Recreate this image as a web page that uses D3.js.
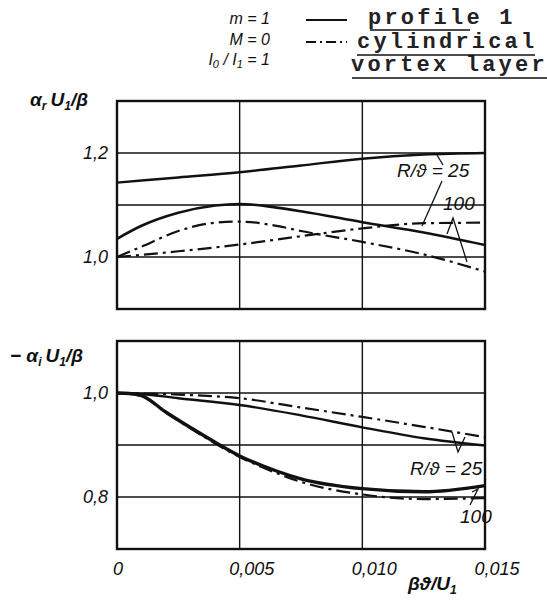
<!DOCTYPE html>
<html>
<head>
<meta charset="utf-8">
<script src="https://cdn.jsdelivr.net/npm/d3@7"></script>
<style>
  body { margin: 0; background: #fff; }
  svg { display: block; }
  .lbl { font-family: "Liberation Sans Narrow", "Liberation Sans", sans-serif; font-style: italic; fill: #111; }
  .mono { font-family: "Liberation Mono", "DejaVu Sans Mono", monospace; font-weight: bold; fill: #222; }
</style>
</head>
<body>
<div id="chart"></div>
<script>
// x values: beta*theta/U1
const xTicks = [0, 0.005, 0.010, 0.015];
const xTickLabels = ["0", "0,005", "0,010", "0,015"];

// upper panel: alpha_r U1/beta
const topTicks = [1.0, 1.2];
const topTickLabels = ["1,0", "1,2"];
const topGrid = [1.0, 1.1, 1.2];
const topSolid25 = [[0, 1.143], [0.0025, 1.153], [0.005, 1.163], [0.0075, 1.176], [0.010, 1.189], [0.0125, 1.197], [0.015, 1.2]];
const topSolid100 = [[0, 1.035], [0.001, 1.06], [0.0025, 1.085], [0.004, 1.099], [0.005, 1.102], [0.0065, 1.095], [0.0075, 1.088], [0.010, 1.067], [0.0125, 1.047], [0.015, 1.023]];
const topDash25 = [[0, 1.0], [0.0025, 1.011], [0.005, 1.024], [0.0075, 1.04], [0.010, 1.055], [0.0125, 1.065], [0.015, 1.066]];
const topDash100 = [[0, 1.0], [0.001, 1.02], [0.0025, 1.05], [0.004, 1.066], [0.005, 1.068], [0.0065, 1.06], [0.0075, 1.05], [0.010, 1.029], [0.0125, 1.005], [0.015, 0.972]];

// lower panel: -alpha_i U1/beta
const botTicks = [0.8, 1.0];
const botTickLabels = ["0,8", "1,0"];
const botGrid = [0.8, 0.9, 1.0];
const botSolid25 = [[0, 1.0], [0.001, 0.998], [0.0025, 0.99], [0.005, 0.977], [0.0075, 0.957], [0.010, 0.934], [0.0125, 0.913], [0.015, 0.899]];
const botDash25 = [[0, 1.0], [0.0025, 0.997], [0.005, 0.99], [0.0075, 0.972], [0.010, 0.954], [0.0125, 0.935], [0.015, 0.915]];
const botSolid100 = [[0, 1.0], [0.0005, 0.999], [0.001, 0.995], [0.002, 0.963], [0.0034, 0.922], [0.005, 0.879], [0.0065, 0.85], [0.0075, 0.835], [0.010, 0.816], [0.0125, 0.81], [0.015, 0.822]];
const botDash100 = [[0, 1.0], [0.001, 0.994], [0.002, 0.962], [0.0034, 0.92], [0.005, 0.877], [0.0065, 0.846], [0.0075, 0.829], [0.010, 0.805], [0.0125, 0.796], [0.015, 0.798]];

const width = 547, height = 602;
const svg = d3.select('#chart').append('svg')
    .attr('width', width)
    .attr('height', height);

const x = d3.scaleLinear().domain([0, 0.015]).range([117, 485]);
const yTop = d3.scaleLinear().domain([0.9, 1.3]).range([309, 101]);
const yBot = d3.scaleLinear().domain([0.7, 1.1]).range([549, 341]);

const DASHDOT = "14,5,3,5";

function panel(y, grid, ticks, tickLabels, curves) {
    const g = svg.append('g');
    // grid
    g.selectAll('line.h').data(grid).enter().append('line')
        .attr('x1', x(0)).attr('x2', x(0.015))
        .attr('y1', d => y(d)).attr('y2', d => y(d))
        .attr('stroke', '#111').attr('stroke-width', 1.3);
    g.selectAll('line.v').data(xTicks.slice(1, 3)).enter().append('line')
        .attr('x1', d => x(d)).attr('x2', d => x(d))
        .attr('y1', y.range()[0]).attr('y2', y.range()[1])
        .attr('stroke', '#111').attr('stroke-width', 1.4);
    // frame
    g.append('rect')
        .attr('x', x(0)).attr('y', y.range()[1])
        .attr('width', x(0.015) - x(0)).attr('height', y.range()[0] - y.range()[1])
        .attr('fill', 'none').attr('stroke', '#111').attr('stroke-width', 2.4);
    // tick labels
    g.selectAll('text.t').data(ticks).enter().append('text')
        .attr('class', 'lbl')
        .attr('x', 108).attr('y', d => y(d) + 6)
        .attr('text-anchor', 'end')
        .attr('font-size', 18)
        .text((d, i) => tickLabels[i]);
    const line = d3.line()
        .x(d => x(d[0])).y(d => y(d[1]))
        .curve(d3.curveMonotoneX);
    curves.forEach(c => {
        g.append('path')
            .attr('d', line(c.data))
            .attr('fill', 'none')
            .attr('stroke', '#111')
            .attr('stroke-width', c.w)
            .attr('stroke-dasharray', c.dash ? DASHDOT : null);
    });
    return g;
}

panel(yTop, topGrid, topTicks, topTickLabels, [
    { data: topSolid25, w: 2.4 },
    { data: topSolid100, w: 2.6 },
    { data: topDash25, w: 2.2, dash: true },
    { data: topDash100, w: 2.2, dash: true }
]);
panel(yBot, botGrid, botTicks, botTickLabels, [
    { data: botSolid25, w: 2.4 },
    { data: botDash25, w: 2.2, dash: true },
    { data: botSolid100, w: 3.4 },
    { data: botDash100, w: 2.2, dash: true }
]);

// x tick labels
svg.selectAll('text.xt').data(xTicks).enter().append('text')
    .attr('class', 'lbl')
    .attr('x', (d, i) => x(d) + (i === 0 ? 1 : 12))
    .attr('y', 575)
    .attr('text-anchor', 'middle')
    .attr('font-size', 18)
    .text((d, i) => xTickLabels[i]);

// axis titles
const xt = svg.append('text').attr('class', 'lbl')
    .attr('x', 408).attr('y', 590).attr('font-size', 19).attr('font-weight', 'bold');
xt.append('tspan').text('βϑ/U');
xt.append('tspan').attr('font-size', 12).attr('dy', 4).text('1');

const yt1 = svg.append('text').attr('class', 'lbl')
    .attr('x', 30).attr('y', 106).attr('font-size', 19).attr('font-weight', 'bold');
yt1.append('tspan').text('α');
yt1.append('tspan').attr('font-size', 12).attr('dy', 4).text('r');
yt1.append('tspan').attr('dy', -4).attr('dx', 4).text('U');
yt1.append('tspan').attr('font-size', 12).attr('dy', 4).text('1');
yt1.append('tspan').attr('dy', -4).text('/β');

const yt2 = svg.append('text').attr('class', 'lbl')
    .attr('x', 10).attr('y', 362).attr('font-size', 19).attr('font-weight', 'bold');
yt2.append('tspan').text('− α');
yt2.append('tspan').attr('font-size', 12).attr('dy', 4).text('i');
yt2.append('tspan').attr('dy', -4).attr('dx', 4).text('U');
yt2.append('tspan').attr('font-size', 12).attr('dy', 4).text('1');
yt2.append('tspan').attr('dy', -4).text('/β');

// curve annotations
function note(tx, ty, parts) {
    svg.append('text').attr('class', 'lbl').attr('x', tx).attr('y', ty)
        .attr('font-size', 19).text(parts);
}
function leader(pts) {
    svg.append('path').attr('d', d3.line()(pts))
        .attr('fill', 'none').attr('stroke', '#111').attr('stroke-width', 1.3);
}
note(397, 177, 'R/ϑ = 25');
note(443, 210, '100');
leader([[437, 155], [443, 165]]);
leader([[442, 181], [422, 226]]);
leader([[447, 234], [453, 218], [467, 262]]);

note(410, 475, 'R/ϑ = 25');
note(460, 523, '100');
leader([[452, 432], [458, 452], [465, 437]]);
leader([[470, 505], [478, 489], [472, 492]]);

// legend
const legLeft = [["m = 1", 24], ["M = 0", 45]];
legLeft.forEach(d => {
    svg.append('text').attr('class', 'lbl').attr('x', 270).attr('y', d[1])
        .attr('text-anchor', 'end').attr('font-size', 16).text(d[0]);
});
const li = svg.append('text').attr('class', 'lbl').attr('x', 270).attr('y', 65)
    .attr('text-anchor', 'end').attr('font-size', 16);
li.append('tspan').text('I');
li.append('tspan').attr('font-size', 11).attr('dy', 3).text('0');
li.append('tspan').attr('dy', -3).text(' / I');
li.append('tspan').attr('font-size', 11).attr('dy', 3).text('1');
li.append('tspan').attr('dy', -3).text(' = 1');

svg.append('line').attr('x1', 306).attr('x2', 347).attr('y1', 20).attr('y2', 20)
    .attr('stroke', '#111').attr('stroke-width', 2);
svg.append('line').attr('x1', 306).attr('x2', 347).attr('y1', 42).attr('y2', 42)
    .attr('stroke', '#111').attr('stroke-width', 2).attr('stroke-dasharray', '10,4,2,4');

const legRight = [["profile 1", 368, 24], ["cylindrical", 357, 48], ["vortex layer", 351, 71]];
legRight.forEach(d => {
    svg.append('text').attr('class', 'mono')
        .attr('x', d[1]).attr('y', d[2])
        .attr('font-size', 22).attr('letter-spacing', 3.2)
        .text(d[0]);
});
leader([[370, 30], [470, 30]]);
leader([[357, 55], [535, 55]]);
leader([[352, 78], [548, 78]]);
</script>
</body>
</html>
